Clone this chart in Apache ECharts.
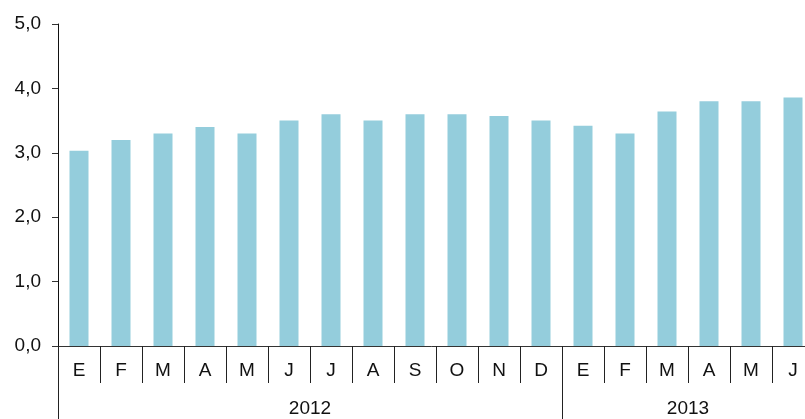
<!DOCTYPE html>
<html>
<head>
<meta charset="utf-8">
<script src="https://cdn.jsdelivr.net/npm/echarts@6/dist/echarts.min.js"></script>
<style>
  html, body { margin: 0; padding: 0; background: #fff; }
  #chart { width: 805px; height: 419px; }
</style>
</head>
<body>
<div id="chart"></div>
<script>
const months = ['E', 'F', 'M', 'A', 'M', 'J', 'J', 'A', 'S', 'O', 'N', 'D', 'E', 'F', 'M', 'A', 'M', 'J']
const values = [3.03, 3.2, 3.3, 3.4, 3.3, 3.5, 3.6, 3.5, 3.6, 3.6, 3.57, 3.5, 3.42, 3.3, 3.64, 3.8, 3.8, 3.86]
const years = ['2012', '2013']
// first month index of each year, plus the end
const yearStarts = [0, 12, 18]
const yTicks = [0, 1, 2, 3, 4, 5]

const chart = echarts.init(document.getElementById('chart'))

const textStyle = { color: '#111', fontFamily: 'Liberation Sans, Arial', fontSize: 19 }

const option = {
  animation: false,
  grid: { left: 58, top: 24, width: 756, height: 322, outerBoundsMode: 'none' },
  xAxis: [
    {
      type: 'category',
      data: months,
      position: 'bottom',
      axisLine: { lineStyle: { color: '#333', width: 1 } },
      axisTick: { show: true, inside: false, length: 37, lineStyle: { color: '#222' } },
      axisLabel: { ...textStyle, margin: 15, interval: 0 }
    },
    {
      type: 'value',
      min: 0,
      max: 18,
      position: 'bottom',
      offset: 37,
      axisLine: { show: false },
      splitLine: { show: false },
      axisTick: {
        show: true,
        length: 37,
        customValues: yearStarts.slice(0, years.length),
        lineStyle: { color: '#222' }
      },
      axisLabel: {
        ...textStyle,
        margin: 16,
        customValues: years.map((_, i) => (yearStarts[i] + yearStarts[i + 1]) / 2),
        formatter: (v) => {
          const i = yearStarts.findIndex((s, k) => v > s && v < yearStarts[k + 1])
          return i >= 0 ? years[i] : ''
        }
      }
    }
  ],
  yAxis: {
    type: 'value',
    min: yTicks[0],
    max: yTicks[yTicks.length - 1],
    interval: 1,
    splitLine: { show: false },
    axisLine: { show: true, lineStyle: { color: '#111' } },
    axisTick: { show: true, inside: false, length: 6, lineStyle: { color: '#333' } },
    axisLabel: {
      ...textStyle,
      margin: 17,
      formatter: (v) => v.toFixed(1).replace('.', ',')
    }
  },
  series: [
    {
      type: 'bar',
      data: values,
      xAxisIndex: 0,
      barWidth: 19,
      itemStyle: { color: '#94CDDC' }
    }
  ]
}

chart.setOption(option)
</script>
</body>
</html>
